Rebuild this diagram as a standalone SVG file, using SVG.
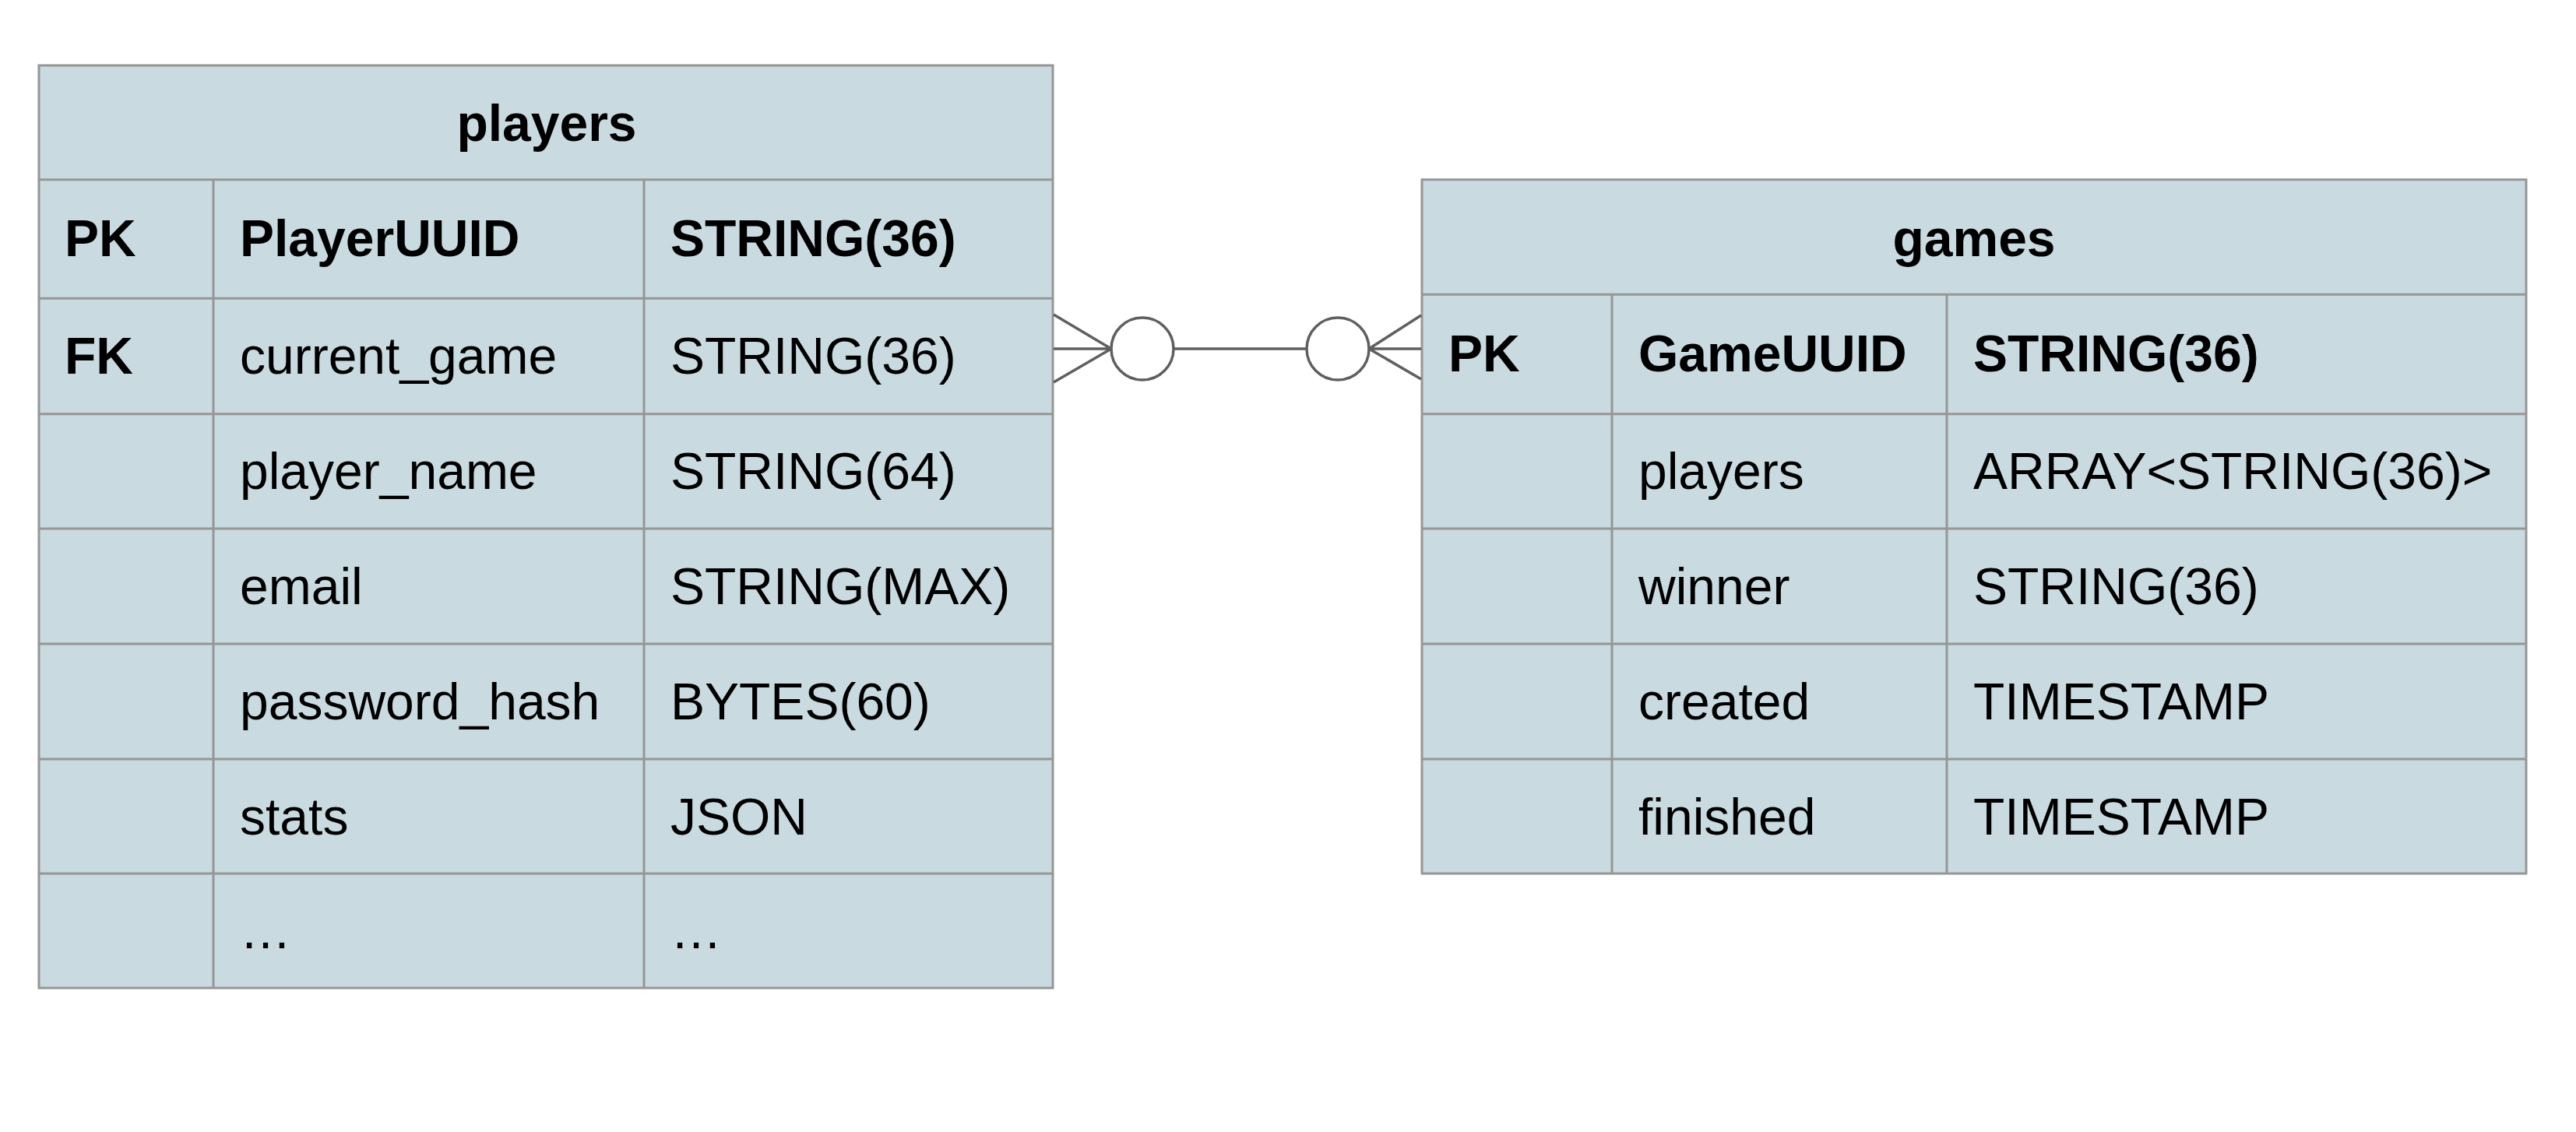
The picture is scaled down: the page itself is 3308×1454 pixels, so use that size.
<svg xmlns="http://www.w3.org/2000/svg" width="3308" height="1454" viewBox="0 0 3308 1454">
<style>
.tbl{fill:#c9dbe0;stroke:#969696;stroke-width:3}
.grid{stroke:#969696;stroke-width:3;fill:none}
.t{font-family:"Liberation Sans",Arial,sans-serif;font-size:66px;fill:#000}
.b{font-weight:bold}
.title{font-weight:bold;text-anchor:middle}
.conn{stroke:#5f5f5f;stroke-width:3.5;fill:none}
.circ{stroke:#5f5f5f;stroke-width:3.5;fill:#fff}
</style>
<rect width="3308" height="1454" fill="#fff"/>
<g id="players">
<rect class="tbl" x="50" y="84" width="1302" height="1185"/>
<path class="grid" d="M50 230.7H1352M50 383.3H1352M50 531.7H1352M50 679H1352M50 827H1352M50 975H1352M50 1122H1352M274 230.7V1269M827 230.7V1269"/>
<text class="t title" x="702" y="181">players</text>
<text class="t b" x="83" y="329">PK</text>
<text class="t b" x="308" y="329">PlayerUUID</text>
<text class="t b" x="861" y="329">STRING(36)</text>
<text class="t b" x="83" y="480">FK</text>
<text class="t" x="308" y="480">current_game</text>
<text class="t" x="861" y="480">STRING(36)</text>
<text class="t" x="308" y="628">player_name</text>
<text class="t" x="861" y="628">STRING(64)</text>
<text class="t" x="308" y="776">email</text>
<text class="t" x="861" y="776">STRING(MAX)</text>
<text class="t" x="308" y="924">password_hash</text>
<text class="t" x="861" y="924">BYTES(60)</text>
<text class="t" x="308" y="1072">stats</text>
<text class="t" x="861" y="1072">JSON</text>
<text class="t" x="308" y="1218">…</text>
<text class="t" x="861" y="1218">…</text>
</g>
<g id="games">
<rect class="tbl" x="1826" y="230.7" width="1418" height="891.3"/>
<path class="grid" d="M1826 378.3H3244M1826 531.7H3244M1826 679H3244M1826 827H3244M1826 975H3244M2070 378.3V1122M2500 378.3V1122"/>
<text class="t title" x="2535" y="329">games</text>
<text class="t b" x="1860" y="477">PK</text>
<text class="t b" x="2104" y="477">GameUUID</text>
<text class="t b" x="2534" y="477">STRING(36)</text>
<text class="t" x="2104" y="628">players</text>
<text class="t" x="2534" y="628">ARRAY&lt;STRING(36)&gt;</text>
<text class="t" x="2104" y="776">winner</text>
<text class="t" x="2534" y="776">STRING(36)</text>
<text class="t" x="2104" y="924">created</text>
<text class="t" x="2534" y="924">TIMESTAMP</text>
<text class="t" x="2104" y="1072">finished</text>
<text class="t" x="2534" y="1072">TIMESTAMP</text>
</g>
<g id="connectors">
<path class="conn" d="M1353 404L1427 448M1353 448H1427M1353 491L1427 448"/>
<circle class="circ" cx="1467" cy="448" r="40"/>
<path class="conn" d="M1507 448H1678"/>
<circle class="circ" cx="1718" cy="448" r="40"/>
<path class="conn" d="M1758 448L1825 405M1758 448H1825M1758 448L1825 487"/>
</g>
</svg>
